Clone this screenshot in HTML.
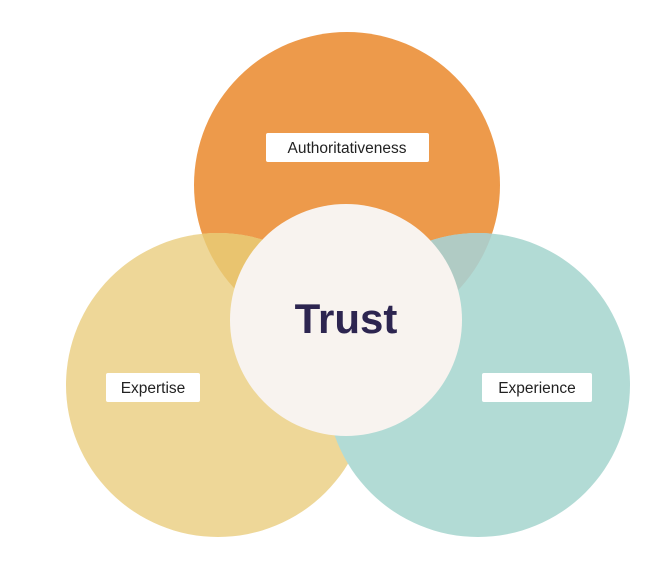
<!DOCTYPE html>
<html><head><style>
body{margin:0;background:#fff;width:669px;height:568px;overflow:hidden}
svg{display:block}
</style></head><body>
<svg width="669" height="568" xmlns="http://www.w3.org/2000/svg">
<defs>
<clipPath id="co"><circle cx="347" cy="185" r="153"/></clipPath>
</defs>
<circle cx="347" cy="185" r="153" fill="#ed9a4b"/>
<circle cx="218" cy="385" r="152" fill="#eed798"/>
<circle cx="478" cy="385" r="152" fill="#b2dbd5"/>
<g clip-path="url(#co)">
<circle cx="218" cy="385" r="152" fill="#e9c46f"/>
<circle cx="478" cy="385" r="152" fill="#b0cbc4"/>
</g>
<circle cx="346" cy="320" r="116" fill="#f8f3ef"/>
<text x="346" y="333" text-anchor="middle" font-family="Liberation Sans, sans-serif" font-weight="bold" font-size="42" fill="#2d2550">Trust</text>
<rect x="266" y="133" width="163" height="29" rx="2" fill="#fff"/>
<text x="347" y="153" text-anchor="middle" font-family="Liberation Sans, sans-serif" font-size="15.5" fill="#222">Authoritativeness</text>
<rect x="106" y="373" width="94" height="29" rx="2" fill="#fff"/>
<text x="153" y="393" text-anchor="middle" font-family="Liberation Sans, sans-serif" font-size="15.5" fill="#222">Expertise</text>
<rect x="482" y="373" width="110" height="29" rx="2" fill="#fff"/>
<text x="537" y="393" text-anchor="middle" font-family="Liberation Sans, sans-serif" font-size="15.5" fill="#222">Experience</text>
</svg>
</body></html>
